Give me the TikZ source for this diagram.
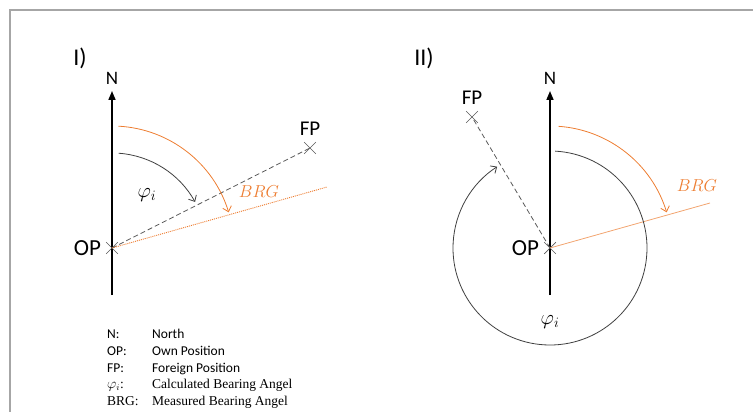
\documentclass[tikz,border=0pt]{standalone}
\usepackage{fontspec}
\setmainfont{Carlito}
\newfontfamily\legendserif{Liberation Serif}
\usetikzlibrary{arrows.meta, positioning, shapes.misc}
\definecolor{brgOrange}{HTML}{ED7D31}
\definecolor{posGray}{HTML}{595959}
\definecolor{frameGray}{HTML}{A6A6A6}

\begin{document}
\begin{tikzpicture}[
  x=1pt, y=1pt,
  %% --- Node styles ---
  posmark/.style={
    cross out, draw=posGray, line width=0.7pt,
    minimum size=11pt, inner sep=0pt
  },
  panellabel/.style={font=\fontsize{24}{26}\selectfont, inner sep=0pt},
  oplabel/.style={font=\fontsize{23}{25}\selectfont, inner sep=0pt},
  fplabel/.style={font=\fontsize{21}{23}\selectfont, inner sep=0pt},
  northlabel/.style={font=\fontsize{19}{21}\selectfont, inner sep=0pt},
  philabel/.style={font=\fontsize{21}{23}\selectfont, inner sep=0pt},
  brglabel/.style={font=\fontsize{19}{21}\selectfont, text=brgOrange, inner sep=0pt},
  legkey/.style={font=\fontsize{13.5}{15}\selectfont, anchor=base west, inner sep=0pt},
  legkeySerif/.style={font=\fontsize{13.5}{15}\selectfont\legendserif, anchor=base west, inner sep=0pt},
  %% --- Line styles ---
  northaxis/.style={-{Triangle[length=9pt, width=7pt]}, line width=1.6pt},
  sightline/.style={draw=posGray, line width=0.8pt, dash pattern=on 5pt off 3pt},
  angarc/.style={-{Straight Barb[length=5pt, width=9pt]}, draw=black!75, line width=0.8pt},
  brgarc/.style={-{Straight Barb[length=5pt, width=9pt]}, draw=brgOrange, line width=0.8pt},
  brgdotted/.style={draw=brgOrange, line width=0.9pt, dash pattern=on 1pt off 1pt},
  brgsolid/.style={draw=brgOrange!70, line width=0.8pt},
  frame/.style={draw=frameGray, line width=1.2pt}
]
\useasboundingbox (0,0) rectangle (753,-412);

%% frame
\draw[frame] (10,-412) -- (10,-10) -- (753,-10);

%% =========================================================
%% PANEL I
%% =========================================================
\node (tag1) [panellabel] at (80,-58) {I)};
\coordinate (bot1) at (112,-295);
\coordinate (top1) at (112,-91);
\draw[northaxis] (bot1) -- (top1);
\node (n1)   [northlabel, above=6pt of top1] {N};

\node (op1)  [posmark] at (112,-248) {};
\node (oplbl1) [oplabel, left=5pt of op1] {OP};
\node (fp1)  [posmark] at (310,-148) {};
\node (fplbl1) [fplabel, above=6pt of fp1] {FP};
\coordinate (brg1) at (327,-187);

\draw[sightline] (op1.center) -- (fp1.center);
\draw[brgdotted] (op1.center) -- (brg1);

\draw[angarc] ([shift={(86:95)}]op1.center) arc[start angle=86, end angle=29, radius=95];
\draw[brgarc] ([shift={(87:122)}]op1.center) arc[start angle=87, end angle=17, radius=122];

\node (phi1) [philabel] at (147,-195) {$\varphi_i$};
\node (brgl1) [brglabel] at (259,-192) {$BRG$};

%% =========================================================
%% PANEL II
%% =========================================================
\node (tag2) [panellabel] at (424,-58) {II)};
\coordinate (bot2) at (550,-295);
\coordinate (top2) at (550,-91);
\draw[northaxis] (bot2) -- (top2);
\node (n2)   [northlabel, above=6pt of top2] {N};

\node (op2)  [posmark] at (550,-248) {};
\node (oplbl2) [oplabel, left=5pt of op2] {OP};
\node (fp2)  [posmark] at (472,-117) {};
\node (fplbl2) [fplabel, above=6pt of fp2] {FP};
\coordinate (brg2) at (710,-203);

\draw[sightline] (op2.center) -- (fp2.center);
\draw[brgsolid] (op2.center) -- (brg2);

\draw[angarc] ([shift={(87:97)}]op2.center) arc[start angle=87, end angle=-237, radius=97];
\draw[brgarc] ([shift={(86:122)}]op2.center) arc[start angle=86, end angle=17, radius=122];

\node (phi2) [philabel] at (550,-322) {$\varphi_i$};
\node (brgl2) [brglabel] at (697,-186) {$BRG$};

%% =========================================================
%% LEGEND
%% =========================================================
\node (kN)   [legkey] at (107,-338) {N:};
\node (vN)   [legkey] at (152,-338) {North};
\node (kOP)  [legkey] at (107,-355) {OP:};
\node (vOP)  [legkey] at (152,-355) {Own Position};
\node (kFP)  [legkey] at (107,-372) {FP:};
\node (vFP)  [legkey] at (152,-372) {Foreign Position};
\node (kPhi) [legkeySerif] at (107,-388) {$\varphi_i$:};
\node (vPhi) [legkeySerif] at (152,-388) {Calculated Bearing Angel};
\node (kBRG) [legkeySerif] at (107,-405) {BRG:};
\node (vBRG) [legkeySerif] at (152,-405) {Measured Bearing Angel};

\end{tikzpicture}
\end{document}
